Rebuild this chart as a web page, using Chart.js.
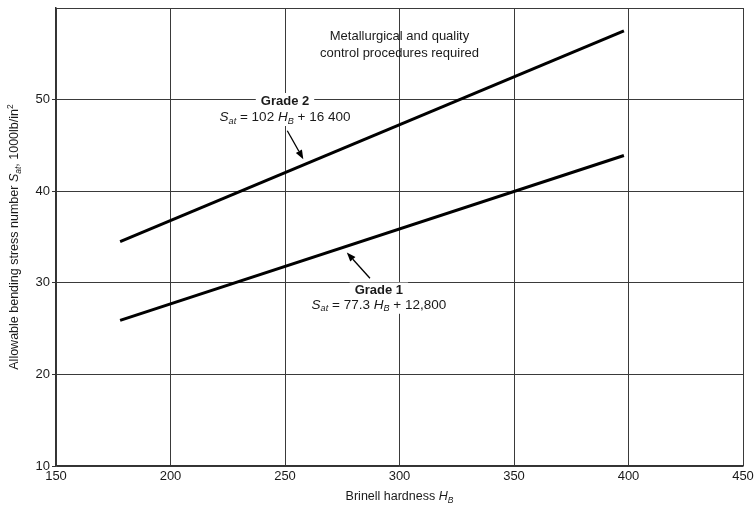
<!DOCTYPE html>
<html>
<head>
<meta charset="utf-8">
<script src="https://cdn.jsdelivr.net/npm/chart.js@4"></script>
<style>
  html, body { margin: 0; padding: 0; background: #fff; }
  #wrap { width: 756px; height: 509px; }
</style>
</head>
<body>
<div id="wrap"><canvas id="hardness" width="756" height="509"></canvas></div>
<script>
window.chartColors = {
    line  : "#000000",
    grid  : "#3a3a3a",
    text  : "#1a1a1a"
};

// values
var hardness = [178, 398];
var grade2 = [34.5, 57.5];
var grade1 = [25.9, 43.9];
var xTicks = [150, 200, 250, 300, 350, 400, 450];
var yTicks = [10, 20, 30, 40, 50];

var FONT = "'Liberation Sans', Arial, sans-serif";

function toPoints(xs, ys) {
    return xs.map(function(x, i) { return {x: x, y: ys[i]}; });
}

// draws a run of pieces: {t, b(old), i(talic), sub, sup}
function pieceFont(p, size) {
    var s = (p.sub || p.sup) ? size * 0.68 : size;
    return (p.i ? "italic " : "") + (p.b ? "bold " : "") + s + "px " + FONT;
}
function runWidth(ctx, pieces, size) {
    var w = 0;
    pieces.forEach(function(p) {
        ctx.font = pieceFont(p, size);
        w += ctx.measureText(p.t).width;
    });
    return w;
}
function drawRun(ctx, pieces, x, y, size) {
    ctx.textBaseline = "middle";
    ctx.textAlign = "left";
    pieces.forEach(function(p) {
        ctx.font = pieceFont(p, size);
        var dy = p.sub ? size * 0.3 : (p.sup ? -size * 0.35 : 0);
        ctx.fillText(p.t, x, y + dy);
        x += ctx.measureText(p.t).width;
    });
}

var notes = [
    {x: 300, y: 56.9, size: 13, pieces: [{t: "Metallurgical and quality"}]},
    {x: 300, y: 55.0, size: 13, pieces: [{t: "control procedures required"}]},
    {x: 250, y: 49.85, size: 13, mask: true, pieces: [{t: "Grade 2", b: true}]},
    {x: 250, y: 48.1, size: 13.5, mask: true, pieces: [
        {t: "S", i: true}, {t: "at", i: true, sub: true}, {t: " = 102 "},
        {t: "H", i: true}, {t: "B", i: true, sub: true}, {t: " + 16 400"}]},
    {x: 291, y: 29.15, size: 13, mask: true, pieces: [{t: "Grade 1", b: true}]},
    {x: 291, y: 27.6, size: 13.5, mask: true, pieces: [
        {t: "S", i: true}, {t: "at", i: true, sub: true}, {t: " = 77.3 "},
        {t: "H", i: true}, {t: "B", i: true, sub: true}, {t: " + 12,800"}]}
];

var arrows = [
    {from: [251, 46.6], to: [258, 43.5]},
    {from: [287.1, 30.5], to: [277, 33.3]}
];

var notesPlugin = {
    id: "notes",
    afterDatasetsDraw: function(chart) {
        var ctx = chart.ctx;
        var xs = chart.scales.x, ys = chart.scales.y;
        ctx.save();
        notes.forEach(function(n) {
            var w = runWidth(ctx, n.pieces, n.size);
            var px = xs.getPixelForValue(n.x) - w / 2;
            var py = ys.getPixelForValue(n.y);
            if (n.mask) {
                ctx.fillStyle = "#fff";
                ctx.fillRect(px - 5, py - 8, w + 10, 17);
            }
            ctx.fillStyle = window.chartColors.text;
            drawRun(ctx, n.pieces, px, py, n.size);
        });
        arrows.forEach(function(a) {
            var x1 = xs.getPixelForValue(a.from[0]), y1 = ys.getPixelForValue(a.from[1]);
            var x2 = xs.getPixelForValue(a.to[0]), y2 = ys.getPixelForValue(a.to[1]);
            var ang = Math.atan2(y2 - y1, x2 - x1);
            var hl = 9, hw = 3.5;
            var bx = x2 - hl * Math.cos(ang), by = y2 - hl * Math.sin(ang);
            ctx.strokeStyle = "#000";
            ctx.lineWidth = 1.3;
            ctx.beginPath();
            ctx.moveTo(x1, y1);
            ctx.lineTo(bx, by);
            ctx.stroke();
            ctx.fillStyle = "#000";
            ctx.beginPath();
            ctx.moveTo(x2, y2);
            ctx.lineTo(bx + hw * Math.sin(ang), by - hw * Math.cos(ang));
            ctx.lineTo(bx - hw * Math.sin(ang), by + hw * Math.cos(ang));
            ctx.closePath();
            ctx.fill();
        });
        ctx.restore();
    },
    afterDraw: function(chart) {
        var ctx = chart.ctx, area = chart.chartArea;
        ctx.save();
        ctx.fillStyle = window.chartColors.text;
        // x title
        var xt = [{t: "Brinell hardness "}, {t: "H", i: true}, {t: "B", i: true, sub: true}];
        var w = runWidth(ctx, xt, 12.5);
        drawRun(ctx, xt, (area.left + area.right) / 2 - w / 2, 497, 12.5);
        // y title
        var yt = [{t: "Allowable bending stress number "}, {t: "S", i: true},
                  {t: "at", i: true, sub: true}, {t: ", 1000lb/in"}, {t: "2", sup: true}];
        w = runWidth(ctx, yt, 12.5);
        ctx.translate(15, (area.top + area.bottom) / 2);
        ctx.rotate(-Math.PI / 2);
        drawRun(ctx, yt, -w / 2, 0, 12.5);
        ctx.restore();
    }
};

var hardnessConfig = {
    type: "scatter",
    data: {
        datasets: [{
            label: "Grade 2",
            data: toPoints(hardness, grade2),
            showLine: true,
            borderColor: window.chartColors.line,
            borderWidth: 3,
            pointRadius: 0
        }, {
            label: "Grade 1",
            data: toPoints(hardness, grade1),
            showLine: true,
            borderColor: window.chartColors.line,
            borderWidth: 3,
            pointRadius: 0
        }]
    },
    options: {
        responsive: false,
        animation: false,
        layout: {
            padding: {top: 8, right: 13, left: 0, bottom: 0}
        },
        plugins: {
            legend: {display: false},
            tooltip: {enabled: false}
        },
        scales: {
            x: {
                type: "linear",
                min: 150,
                max: 450,
                afterBuildTicks: function(axis) {
                    axis.ticks = xTicks.map(function(v) { return {value: v}; });
                },
                afterFit: function(axis) {
                    axis.height = 43;
                    axis.paddingLeft = 0;
                    axis.paddingRight = 0;
                },
                grid: {color: window.chartColors.grid, lineWidth: 1, drawTicks: false},
                border: {color: "#333", width: 1.5},
                ticks: {
                    color: window.chartColors.text,
                    font: {family: FONT, size: 13},
                    padding: 3,
                    maxRotation: 0
                }
            },
            y: {
                type: "linear",
                min: 10,
                max: 60,
                afterBuildTicks: function(axis) {
                    axis.ticks = yTicks.concat([60]).map(function(v) { return {value: v}; });
                },
                afterFit: function(axis) {
                    axis.width = 56;
                    axis.paddingTop = 0;
                    axis.paddingBottom = 0;
                },
                grid: {
                    color: window.chartColors.grid,
                    lineWidth: 1,
                    tickLength: 4,
                    tickColor: function(c) {
                        return c.tick && c.tick.value === 60 ? "rgba(0,0,0,0)" : "#333";
                    }
                },
                border: {color: "#333", width: 1.5},
                ticks: {
                    color: window.chartColors.text,
                    font: {family: FONT, size: 13},
                    padding: 2,
                    callback: function(v) { return v === 60 ? "" : v; }
                }
            }
        }
    },
    plugins: [notesPlugin]
};

window.onload = function() {
    var ctx = document.getElementById("hardness").getContext("2d");
    window.hardnessChart = new Chart(ctx, hardnessConfig);
};
</script>
</body>
</html>
